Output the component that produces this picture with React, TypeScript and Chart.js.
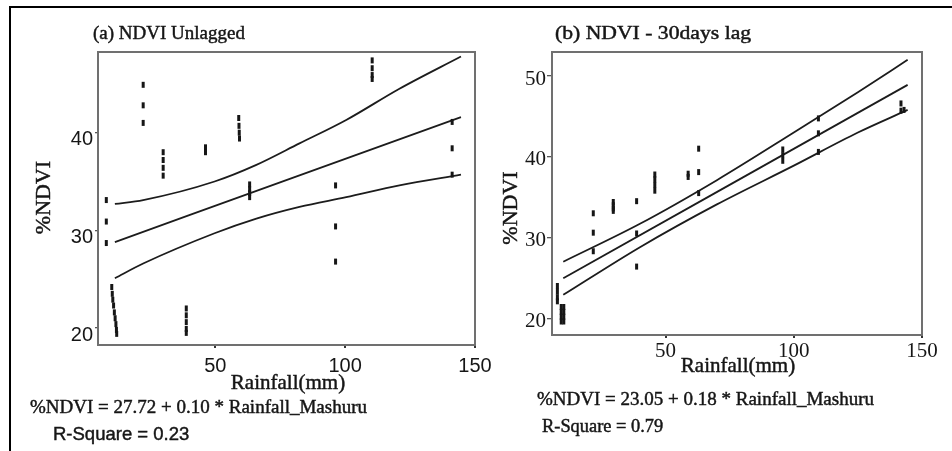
import React, { useEffect, useRef } from "react";
import { Chart, registerables } from "chart.js";

Chart.register(...registerables);

// ---------- Panel (a): NDVI Unlagged ----------
const aPointX = [8.0, 8.0, 8.0, 10.1, 10.3, 10.5, 10.8, 11.1, 11.4, 11.7, 11.9, 12.0, 22.2, 22.2, 22.2, 29.9, 29.9, 29.9, 29.9, 38.8, 38.8, 38.8, 38.8, 38.8, 46.2, 46.2, 59.0, 59.1, 59.2, 59.3, 63.2, 63.2, 63.2, 63.2, 96.3, 96.3, 96.3, 110.4, 110.4, 110.4, 110.4, 141.2, 141.2, 141.2];
const aPointY = [33.1, 30.9, 28.7, 24.2, 23.5, 22.9, 22.3, 21.6, 21.0, 20.4, 19.8, 19.4, 44.9, 42.8, 41.0, 38.0, 37.2, 36.4, 35.6, 22.0, 21.3, 20.6, 19.9, 19.5, 38.5, 38.0, 41.5, 40.7, 40.0, 39.4, 34.7, 34.2, 33.8, 33.4, 34.6, 30.4, 26.8, 47.4, 46.6, 45.9, 45.5, 41.1, 38.4, 35.7];
const aFitX = [11.3, 144.6];
const aFitY = [28.8, 41.6];
const aBandX = [11.3, 22.2, 49.7, 65.8, 82.4, 100.4, 120.9, 144.6];
const aUpper = [32.7, 33.1, 35.0, 36.7, 38.9, 41.3, 44.5, 47.8];
const aLower = [25.1, 26.6, 29.7, 31.2, 32.4, 33.4, 34.6, 35.7];
const aXTicks = [50, 100, 150];
const aYTicks = [20, 30, 40];

// ---------- Panel (b): NDVI - 30days lag ----------
const bPointX = [7.8, 7.8, 7.8, 7.8, 9.3, 9.3, 9.3, 9.3, 10.3, 10.3, 10.3, 10.3, 21.8, 21.8, 21.8, 29.6, 29.6, 29.6, 29.6, 38.7, 38.7, 38.7, 45.8, 45.8, 45.8, 45.8, 58.8, 58.8, 62.9, 62.9, 62.9, 95.7, 95.7, 95.7, 109.6, 109.6, 109.6, 141.8, 141.8, 143.0];
const bPointY = [24.0, 23.3, 22.6, 22.1, 21.4, 20.8, 20.2, 19.6, 21.4, 20.8, 20.2, 19.6, 33.0, 30.6, 28.3, 34.4, 34.0, 33.6, 33.3, 34.5, 30.5, 26.4, 37.8, 37.2, 36.5, 35.8, 37.9, 37.5, 41.0, 38.1, 35.5, 40.9, 40.2, 39.5, 44.75, 42.9, 40.6, 46.6, 45.7, 45.8];
const bFitX = [10.1, 144.4];
const bFitY = [24.95, 48.9];
const bBandX = [10.1, 40, 70, 100, 125, 144.4];
const bUpper = [27.0, 31.7, 37.1, 43.0, 48.0, 52.0];
const bLower = [22.9, 28.8, 34.1, 38.9, 43.0, 45.8];
const bXTicks = [50, 100, 150];
const bYTicks = [20, 30, 40, 50];

const SERIF = "'Liberation Serif', 'Times New Roman', serif";
const SANS = "'Liberation Sans', Arial, sans-serif";
const INK = "#161616";

const zip = (xs: number[], ys: number[]) => xs.map((x, i) => ({ x, y: ys[i] }));

const decorPlugin = {
  id: "decor",
  afterDraw(chart: any, _args: any, opts: any) {
    const { ctx, chartArea: a } = chart;
    ctx.save();
    ctx.strokeStyle = opts.frameColor || "#707070";
    ctx.lineWidth = 2;
    ctx.strokeRect(a.left, a.top, a.right - a.left, a.bottom - a.top);
    for (const t of opts.texts || []) {
      ctx.save();
      ctx.font = t.font;
      ctx.fillStyle = INK;
      ctx.strokeStyle = INK;
      ctx.lineWidth = 0.45;
      ctx.textAlign = t.align || "left";
      ctx.textBaseline = t.baseline || "alphabetic";
      ctx.translate(t.x, t.y);
      if (t.rotate) ctx.rotate(t.rotate);
      if (t.sx) ctx.scale(t.sx, 1);
      ctx.fillText(t.text, 0, 0);
      ctx.strokeText(t.text, 0, 0);
      ctx.restore();
    }
    ctx.restore();
  },
};

function makeConfig(p: any) {
  const pointDs = {
    label: "obs",
    data: zip(p.px, p.py),
    showLine: false,
    pointStyle: "line",
    rotation: 90,
    pointRadius: 3,
    pointBorderWidth: 3,
    borderColor: INK,
    backgroundColor: INK,
  };
  const lineDs = (xs: number[], ys: number[]) => ({
    label: "line",
    data: zip(xs, ys),
    showLine: true,
    pointRadius: 0,
    borderColor: "#1c1c1c",
    borderWidth: 1.8,
    cubicInterpolationMode: "monotone",
    fill: false,
  });
  return {
    type: "scatter",
    data: {
      datasets: [
        pointDs,
        lineDs(p.fitX, p.fitY),
        lineDs(p.bandX, p.upper),
        lineDs(p.bandX, p.lower),
      ],
    },
    options: {
      animation: false,
      responsive: false,
      devicePixelRatio: 1,
      layout: { padding: p.padding },
      plugins: {
        legend: { display: false },
        tooltip: { enabled: false },
        decor: { texts: p.texts, frameColor: "#707070" },
      },
      scales: {
        x: {
          type: "linear",
          min: p.xMin,
          max: p.xMax,
          afterFit: (s: any) => { s.height = p.xH; },
          afterBuildTicks: (s: any) => { s.ticks = p.xTicks.map((v: number) => ({ value: v })); },
          grid: { drawOnChartArea: false, drawTicks: true, tickLength: p.xTickLen, color: "#333", lineWidth: 2 },
          border: { display: false },
          ticks: { font: p.tickFont, color: INK, padding: p.xTickPad, maxRotation: 0, autoSkip: false, callback: (v: any) => String(v) },
        },
        y: {
          type: "linear",
          min: p.yMin,
          max: p.yMax,
          afterFit: (s: any) => { s.width = p.yW; },
          afterBuildTicks: (s: any) => { s.ticks = p.yTicks.map((v: number) => ({ value: v })); },
          grid: { drawOnChartArea: false, drawTicks: true, tickLength: p.yTickLen, color: "#555", lineWidth: 1.3 },
          border: { display: false },
          ticks: { font: p.tickFont, color: INK, padding: p.yTickPad, labelOffset: p.yLabelOffset, autoSkip: false, callback: (v: any) => String(v) },
        },
      },
    },
    plugins: [decorPlugin],
  };
}

export default function App() {
  const leftRef = useRef<HTMLCanvasElement | null>(null);
  const rightRef = useRef<HTMLCanvasElement | null>(null);

  useEffect(() => {
    const left = new Chart(leftRef.current as any, makeConfig({
      px: aPointX, py: aPointY, fitX: aFitX, fitY: aFitY, bandX: aBandX, upper: aUpper, lower: aLower,
      xTicks: aXTicks, yTicks: aYTicks,
      xMin: 4.8, xMax: 150, yMin: 18.26, yMax: 48.26,
      padding: { left: 0, top: 52, right: 25, bottom: 76 },
      xH: 30, yW: 98,
      xTickLen: 3, xTickPad: 6, yTickLen: 3, yTickPad: 2, yLabelOffset: 7,
      tickFont: { family: SANS, size: 20 },
      texts: [
        { text: "(a) NDVI Unlagged", x: 93, y: 38.5, font: `19px ${SERIF}` },
        { text: "%NDVI", x: 50, y: 197.5, font: `22px ${SERIF}`, align: "center", rotate: -Math.PI / 2 },
        { text: "Rainfall(mm)", x: 288, y: 389, font: `21px ${SERIF}`, align: "center" },
        { text: "%NDVI = 27.72 + 0.10 * Rainfall_Mashuru", x: 30, y: 413, font: `19px ${SERIF}` },
        { text: "R-Square = 0.23", x: 53, y: 440, font: `18.5px ${SANS}` },
      ],
    }) as any);
    const right = new Chart(rightRef.current as any, makeConfig({
      px: bPointX, py: bPointY, fitX: bFitX, fitY: bFitY, bandX: bBandX, upper: bUpper, lower: bLower,
      xTicks: bXTicks, yTicks: bYTicks,
      xMin: 5.7, xMax: 150, yMin: 17.93, yMax: 52.97,
      padding: { left: 0, top: 52, right: 30, bottom: 86 },
      xH: 30, yW: 72,
      xTickLen: 3, xTickPad: 1, yTickLen: 5, yTickPad: 1, yLabelOffset: 3,
      tickFont: { family: SERIF, size: 21 },
      texts: [
        { text: "(b) NDVI - 30days lag", x: 75, y: 38.5, font: `19px ${SERIF}`, sx: 1.14 },
        { text: "%NDVI", x: 37, y: 208, font: `22px ${SERIF}`, align: "center", rotate: -Math.PI / 2 },
        { text: "Rainfall(mm)", x: 258, y: 372, font: `21px ${SERIF}`, align: "center" },
        { text: "%NDVI = 23.05 + 0.18 * Rainfall_Mashuru", x: 57, y: 405, font: `19px ${SERIF}` },
        { text: "R-Square = 0.79", x: 62, y: 432, font: `18.4px ${SERIF}` },
      ],
    }) as any);
    return () => {
      left.destroy();
      right.destroy();
    };
  }, []);

  return (
    <div style={{ position: "fixed", left: 0, top: 0, width: 952, height: 451, background: "#fff", overflow: "hidden" }}>
      <div style={{ position: "absolute", left: 9, top: 6, width: 943, height: 445, borderTop: "2px solid #000", borderLeft: "2px solid #000" }} />
      <canvas ref={leftRef} width={500} height={451} style={{ position: "absolute", left: 0, top: 0 }} />
      <canvas ref={rightRef} width={472} height={451} style={{ position: "absolute", left: 480, top: 0 }} />
    </div>
  );
}
